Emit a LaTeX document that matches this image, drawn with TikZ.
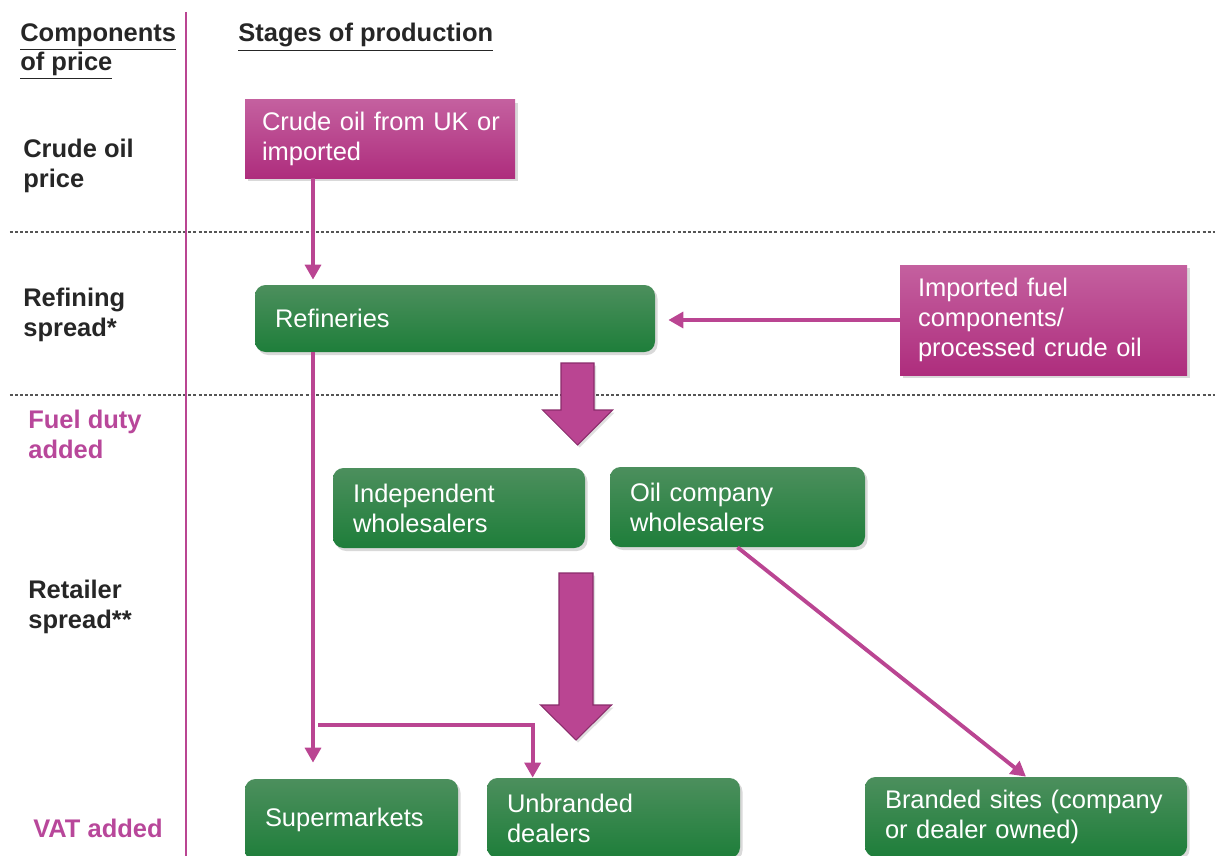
\documentclass[tikz,border=0pt]{standalone}
\usepackage{fontspec}
\setmainfont{Liberation Sans}
\usepackage{xcolor}
\usepackage{tikz}
\usetikzlibrary{arrows.meta, shadows, positioning}

\definecolor{oilpink}{HTML}{BA4592}
\definecolor{pinktop}{HTML}{C4609F}
\definecolor{pinkbot}{HTML}{AE2D7D}
\definecolor{greentop}{HTML}{4C8F5D}
\definecolor{greenbot}{HTML}{1E7E3A}
\definecolor{arrowedge}{HTML}{8A2C6B}
\definecolor{labelpink}{HTML}{B8479A}
\definecolor{labeltext}{HTML}{262626}
\definecolor{guide}{HTML}{555555}

\tikzstyle{stage} = [rectangle, rounded corners=6pt, top color=greentop, bottom color=greenbot, text=white, align=left, inner xsep=0.4cm, inner ysep=0pt, drop shadow={shadow xshift=0.05cm, shadow yshift=-0.06cm, opacity=0.3}]
\tikzstyle{source} = [rectangle, top color=pinktop, bottom color=pinkbot, text=white, align=left, inner ysep=0pt, drop shadow={shadow xshift=0.05cm, shadow yshift=-0.06cm, opacity=0.3}]
\tikzstyle{flow} = [line width=2.2pt, draw=oilpink, -{Triangle[width=9pt,length=8.5pt]}]
\tikzstyle{bigarrow} = [fill=oilpink, draw=arrowedge, line width=0.6pt, drop shadow={shadow xshift=0.04cm, shadow yshift=-0.05cm, opacity=0.25}]

\begin{document}
\begin{tikzpicture}[font=\fontsize{14.5}{17}\selectfont]
        \useasboundingbox (0,0) rectangle (24.36,-17.12);
        % Styles for the side labels (anchored on the last line)
        \tikzstyle{component} = [anchor=base west, inner sep=0pt, align=left, font=\fontsize{14.5}{17}\selectfont\bfseries, text=labeltext]
        \tikzstyle{tax} = [component, text=labelpink]

        % Bands
        \draw [guide, line width=0.6pt, dash pattern=on 1.7pt off 1.2pt] (0.2,-4.64) -- (24.3,-4.64);
        \draw [guide, line width=0.6pt, dash pattern=on 1.7pt off 1.2pt] (0.2,-7.9) -- (24.3,-7.9);
        \draw [oilpink, line width=1.1pt] (3.72,-0.24) -- (3.72,-17.12);

        % Headings
        \node (lblhead) [component] at (0.4,-1.42) {\underline{Components}\\\underline{of price}};
        \node (lblstages) [component] at (4.76,-0.84) {\underline{Stages of production}};

        % Components of price
        \node (lblcrude) [component] at (0.46,-3.74) {Crude oil\\price};
        \node (lblrefine) [component] at (0.46,-6.72) {Refining\\spread*};
        \node (lblduty) [tax] at (0.56,-9.16) {Fuel duty\\added};
        \node (lblretail) [component] at (0.56,-12.56) {Retailer\\spread**};
        \node (lblvat) [tax] at (0.66,-16.74) {VAT added};

        % Stages
        \node (crude) [source, inner xsep=0.34cm, text width=4.72cm, minimum height=1.56cm] at (7.6,-2.78) {\mbox{Crude oil from UK or}\\imported};
        \node (refineries) [stage, text width=7.2cm, minimum height=1.34cm] at (9.1,-6.37) {Refineries};
        \node (imported) [source, inner xsep=0.36cm, text width=5.02cm, minimum height=2.2cm] at (20.87,-6.4) {Imported fuel\\components/\\processed crude oil};
        \node (independent) [stage, text width=4.24cm, minimum height=1.6cm] at (9.18,-10.16) {Independent\\wholesalers};
        \node (oilco) [stage, text width=4.3cm, minimum height=1.6cm] at (14.75,-10.14) {Oil company\\wholesalers};
        \node (supermarkets) [stage, text width=3.46cm, minimum height=1.64cm] at (7.03,-16.4) {Supermarkets};
        \node (unbranded) [stage, text width=4.26cm, minimum height=1.6cm] at (12.27,-16.36) {Unbranded\\dealers};
        \node (branded) [stage, text width=5.64cm, minimum height=1.6cm] at (20.52,-16.34) {\mbox{Branded sites (company}\\or dealer owned)};

        % Flows
        \coordinate (trunk) at (6.26,0);
        \coordinate (split) at (6.36,-14.5);
        \draw [flow] (crude.south -| trunk) -- ([yshift=0.1cm]refineries.north -| trunk);
        \draw [flow] (imported.west) -- ([xshift=0.26cm]refineries.east |- imported.west);
        \draw [flow] (refineries.south -| trunk) -- ([yshift=0.32cm]supermarkets.north -| trunk);
        \draw [flow] (split) -| ([xshift=0.92cm]unbranded.north west);
        \draw [flow] (oilco.south) -- (branded.north);

        % Bulk flows
        \coordinate (drop1) at (11.55,-7.26);
        \coordinate (drop2) at (11.52,-11.46);
        \draw [bigarrow] (drop1) ++(-0.33,0) -- ++(0.66,0) -- ++(0,-0.94) -- ++(0.37,0) -- ++(-0.7,-0.7) -- ++(-0.7,0.7) -- ++(0.37,0) -- cycle;
        \draw [bigarrow] (drop2) ++(-0.34,0) -- ++(0.68,0) -- ++(0,-2.64) -- ++(0.37,0) -- ++(-0.71,-0.7) -- ++(-0.71,0.7) -- ++(0.37,0) -- cycle;
    \end{tikzpicture}
\end{document}
